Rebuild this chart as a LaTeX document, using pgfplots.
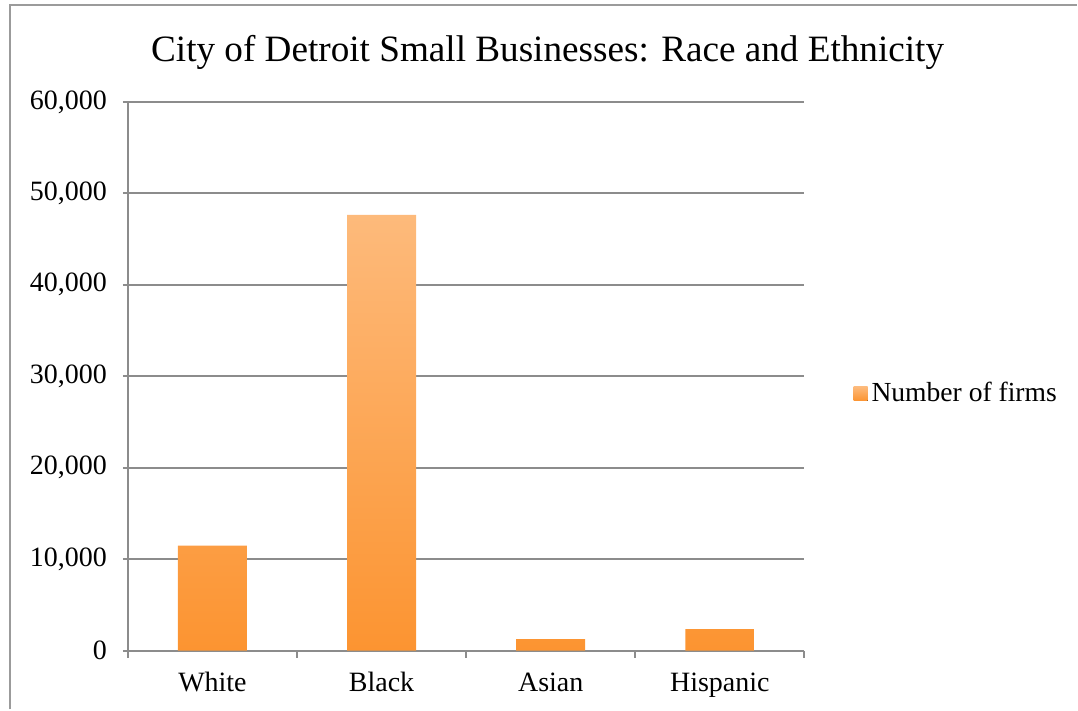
\documentclass[border=0pt]{standalone}
\usepackage{fontspec}
\setmainfont{Liberation Serif}
\usepackage{pgfplots}
\pgfplotsset{compat=1.18}
\usetikzlibrary{calc}
\definecolor{bartop}{RGB}{253,186,123}
\definecolor{barbot}{RGB}{252,148,49}
\definecolor{gridgray}{RGB}{140,140,140}
\definecolor{framegray}{RGB}{155,155,155}
\begin{document}
\begin{tikzpicture}
\begin{axis}[
  name=ax,
  scale only axis,
  width=338.5pt, height=274.5pt,
  xmin=-0.5, xmax=3.5,
  ymin=0, ymax=60000,
  axis x line*=bottom, axis y line*=left,
  axis line style={gridgray, line width=1pt, -},
  xtick={0,1,2,3},
  xticklabels={White,Black,Asian,Hispanic},
  major x tick style={draw=none},
  minor xtick={-0.5,0.5,1.5,2.5,3.5},
  minor x tick style={gridgray, line width=1pt},
  minor tick length=3.5pt,
  scaled y ticks=false,
  ytick={0,10000,20000,30000,40000,50000,60000},
  yticklabels={0,{10,000},{20,000},{30,000},{40,000},{50,000},{60,000}},
  major y tick style={gridgray, line width=1pt},
  major tick length=2.5pt,
  tick align=outside,
  ymajorgrids,
  grid style={gridgray, line width=1pt},
  yticklabel style={font=\fontsize{14}{16}\selectfont, xshift=-4.5pt},
  xticklabel style={font=\fontsize{14}{16}\selectfont, yshift=-5pt},
  ybar, bar width=34.5pt,
  legend style={at={(rel axis cs:1.072,0.468)}, anchor=west, draw=none,
    font=\fontsize{13.8}{16}\selectfont, inner sep=0pt},
  legend image code/.code={\fill[top color=bartop, bottom color=barbot]
    (-3.5pt,-3.5pt) rectangle (3.5pt,3.5pt);},
]
\addplot[draw=none, top color=bartop, bottom color=barbot]
  coordinates {(0,11470) (1,47640) (2,1250) (3,2340)};
\addlegendentry{Number of firms}
\end{axis}
\node[font=\fontsize{18.6}{22}\selectfont] at ($(ax.north west)+(210pt,25pt)$)
  {City of Detroit Small Businesses: Race and Ethnicity};
\draw[framegray, line width=0.8pt]
  ($(ax.south west)+(-59pt,-29.5pt)$) -- ($(ax.north west)+(-59pt,48.5pt)$)
  -- ($(ax.north east)+(136.5pt,48.5pt)$);
\path[use as bounding box] ($(ax.south west)+(-64pt,-29.5pt)$)
  rectangle ($(ax.north east)+(136.5pt,51pt)$);
\end{tikzpicture}
\end{document}
